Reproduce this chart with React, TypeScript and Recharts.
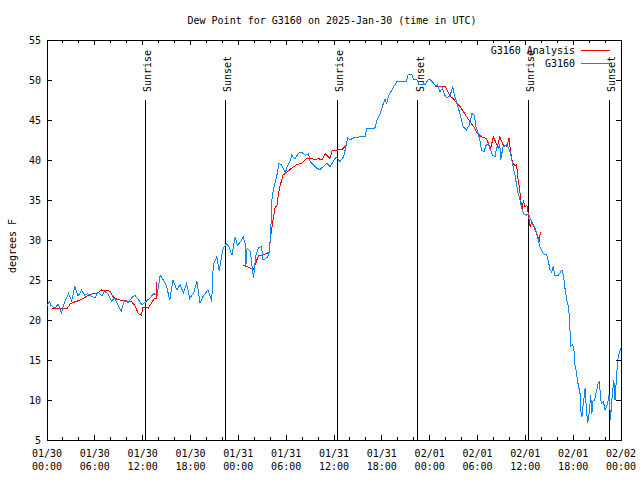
import { LineChart, Line, XAxis, YAxis, ReferenceLine, ReferenceArea } from "recharts";

// hours since 2025-01-30 00:00 UTC, dew point in degrees F
const g3160: [number, number][] = [
  [0, 21.7], [0.3, 22.3], [0.5, 21.8], [1.0, 21.5], [1.4, 22.0], [1.8, 20.9], [2.2, 22.2], [2.7, 23.3],
  [3.1, 22.4], [3.5, 24.2], [3.9, 23.0], [4.35, 23.75], [4.7, 23.1], [5.1, 23.3], [5.5, 23.0], [6.0, 22.75],
  [6.4, 23.5], [6.9, 23.0], [7.2, 23.6], [7.65, 23.3], [8.1, 22.4], [8.5, 22.75], [8.9, 21.9], [9.3, 21.1],
  [9.7, 22.4], [10.2, 22.2], [10.6, 22.75], [11.0, 23.1], [11.5, 22.5], [11.9, 21.9], [12.3, 22.2], [12.9, 22.75],
  [13.4, 23.3], [13.8, 23.0], [14.2, 25.6], [14.6, 25.0], [15.0, 24.2], [15.4, 22.5], [15.8, 25.0], [16.3, 23.75],
  [16.7, 24.4], [17.1, 23.4], [17.5, 24.6], [17.9, 22.7], [18.4, 23.4], [18.8, 24.8], [19.2, 22.1], [19.6, 23.0],
  [20.2, 23.75], [20.66, 22.3], [20.8, 25.9], [20.95, 27.1], [21.3, 27.9], [21.6, 26.1], [21.9, 28.0], [22.1, 29.0],
  [22.5, 29.5], [22.75, 29.3], [23.2, 28.1], [23.6, 30.4], [23.9, 29.3], [24.4, 30.0], [24.6, 30.4], [24.9, 29.4],
  [24.95, 26.8], [25.1, 29.0], [25.5, 28.6], [25.9, 25.25], [26.2, 28.1], [26.5, 29.0], [26.9, 29.2], [27.1, 27.5],
  [27.6, 27.8], [27.8, 28.1], [28.0, 30.0], [28.1, 32.1], [28.2, 35.0], [28.4, 36.25], [28.6, 37.1], [28.9, 38.4],
  [29.1, 39.6], [29.4, 39.4], [29.9, 38.4], [30.1, 39.1], [30.5, 39.9], [30.7, 40.6], [31.1, 40.1], [31.5, 40.8],
  [31.9, 41.0], [32.4, 40.6], [32.8, 40.8], [33.0, 39.8], [33.4, 39.4], [33.8, 39.0], [34.2, 38.8], [34.7, 39.2],
  [35.1, 39.6], [35.5, 39.2], [35.9, 39.8], [36.25, 40.4], [36.75, 39.8], [37.2, 40.4], [37.5, 41.7], [37.7, 42.8],
  [38.0, 42.5], [38.3, 42.7], [38.6, 42.8], [39.3, 42.9], [39.9, 42.9], [40.1, 43.9], [41.1, 43.9], [41.4, 45.0],
  [41.8, 45.8], [42.2, 47.1], [42.4, 47.6], [42.6, 47.1], [42.8, 47.9], [43.0, 48.3], [43.4, 49.0], [43.9, 49.8],
  [45.1, 49.8], [45.3, 50.75], [45.75, 50.75], [45.95, 50.1], [46.4, 50.0], [46.7, 49.4], [47.4, 49.4], [47.8, 50.0],
  [48.0, 50.1], [48.5, 49.6], [48.7, 49.3], [49.0, 49.4], [49.3, 48.5], [49.6, 49.0], [49.9, 48.1], [50.1, 47.8],
  [50.55, 48.0], [50.9, 49.2], [51.05, 48.4], [51.4, 47.1], [51.8, 45.8], [52.2, 44.2], [52.6, 43.75], [53.0, 44.4],
  [53.3, 45.8], [53.6, 45.6], [53.8, 44.2], [54.1, 43.3], [54.3, 42.5], [54.5, 41.25], [54.8, 41.0], [55.1, 41.9],
  [55.35, 42.0], [55.65, 41.2], [55.9, 40.6], [56.2, 40.4], [56.4, 41.6], [56.6, 41.5], [56.8, 41.9], [56.9, 40.0],
  [57.2, 41.6], [57.7, 41.9], [57.9, 41.5], [58.1, 41.0], [58.3, 40.0], [58.5, 39.0], [58.7, 38.1], [58.9, 36.9],
  [59.1, 35.8], [59.3, 35.2], [59.5, 34.2], [59.75, 33.3], [60.2, 33.1], [60.4, 33.3], [60.6, 32.7], [60.9, 32.1],
  [61.2, 31.5], [61.5, 30.6], [61.8, 29.2], [62.25, 28.3], [62.7, 28.1], [62.9, 27.3], [63.1, 26.25], [63.3, 26.0],
  [63.5, 26.7], [63.7, 25.6], [64.1, 25.5], [64.4, 26.0], [64.6, 26.25], [64.8, 25.4], [65.0, 23.75], [65.2, 22.5],
  [65.4, 21.7], [65.5, 20.6], [65.6, 18.75], [65.7, 16.7], [65.95, 16.9], [66.1, 16.25], [66.2, 14.6], [66.4, 13.5],
  [66.6, 12.1], [66.9, 10.6], [66.95, 8.75], [67.1, 7.9], [67.2, 8.9], [67.4, 10.6], [67.5, 11.5], [67.6, 9.75],
  [67.8, 7.1], [67.95, 7.9], [68.1, 9.4], [68.2, 10.6], [68.35, 8.3], [68.5, 10.0], [68.7, 10.0], [68.95, 11.25],
  [69.15, 12.1], [69.3, 12.3], [69.45, 10.0], [69.6, 9.6], [69.8, 9.8], [70.0, 8.75], [70.2, 9.2], [70.4, 10.0],
  [70.5, 10.6], [70.7, 7.5], [70.8, 9.6], [70.95, 11.0], [71.1, 12.5], [71.25, 10.0], [71.4, 12.3], [71.5, 13.75],
  [71.65, 15.4], [71.9, 16.25], [72, 16.5],
];

// analysis, null = no analysis available
const g3160Analysis: [number, number | null][] = [
  [0.6, 21.5], [2.5, 21.4], [2.9, 22.0], [3.3, 22.2], [3.9, 22.4], [4.55, 22.7], [5.2, 23.1], [5.8, 23.3],
  [6.4, 23.4], [6.85, 23.75], [7.3, 23.7], [7.9, 23.6], [8.3, 22.9], [8.75, 22.6], [9.15, 22.5], [9.8, 22.4],
  [10.2, 22.35], [10.6, 22.3], [11.05, 21.75], [11.45, 20.8], [11.9, 20.6], [11.95, 21.6], [12.7, 21.5], [13.1, 22.1],
  [13.4, 22.6], [13.7, 22.7], [13.75, 24.8], [14.0, null],
  [24.6, 26.8], [25.0, 26.7], [25.5, 26.5], [25.9, 26.3], [26.5, 28.0], [27.0, 28.1], [27.5, 28.3], [27.9, 28.5],
  [28.0, 30.0], [28.3, 32.2], [28.6, 34.0], [28.9, 34.4], [29.0, 35.6], [29.2, 36.6], [29.6, 38.1], [30.1, 38.5],
  [30.7, 39.0], [31.3, 39.4], [31.95, 39.6], [32.6, 40.2], [33.2, 40.25], [33.6, 40.0], [34.0, 40.2], [34.5, 40.0],
  [34.9, 40.8], [35.5, 40.2], [35.8, 41.25], [36.5, 41.25], [37.0, 41.3], [37.6, 41.9], [38.0, null],
  [48.7, 49.25], [49.9, 49.25], [50.55, 48.0], [50.95, 47.7], [51.4, 47.1], [51.8, 46.7], [52.2, 46.1], [52.65, 45.4],
  [53.05, 44.8], [53.5, 44.2], [53.9, 43.5], [54.5, 42.9], [55.1, 42.7], [55.35, 42.1], [55.65, 41.5], [56.0, 42.9],
  [56.3, 42.2], [56.5, 41.7], [56.8, 42.9], [57.2, 41.9], [57.65, 41.7], [57.95, 42.7], [58.15, 41.0], [58.4, 39.6],
  [58.7, 39.3], [58.9, 39.4], [59.1, 37.5], [59.3, 36.25], [59.45, 34.8], [59.6, 33.75], [59.75, 35.0], [59.95, 34.2],
  [60.2, 34.3], [60.4, 33.1], [60.6, 31.7], [60.8, 32.3], [61.1, 31.6], [61.4, 30.8], [61.75, 30.0], [61.9, 31.0],
];

const majorHours = [0, 6, 12, 18, 24, 30, 36, 42, 48, 54, 60, 66, 72];
const dateLabels = ["01/30", "01/30", "01/30", "01/30", "01/31", "01/31", "01/31", "01/31", "02/01", "02/01", "02/01", "02/01", "02/02"];
const timeLabels = ["00:00", "06:00", "12:00", "18:00", "00:00", "06:00", "12:00", "18:00", "00:00", "06:00", "12:00", "18:00", "00:00"];
const yTicks = [5, 10, 15, 20, 25, 30, 35, 40, 45, 50, 55];
const sunrises = [12.33, 36.42, 60.38];
const sunsets = [22.37, 46.5, 70.55];

const FONT = '"DejaVu Sans Mono", monospace';
const TOP = 40;
const BOTTOM = 440;
const LEFT = 47;
const RIGHT = 621;
const RED = "#ff0000";
const BLUE = "#0a86ff";

const xTicks: number[] = [];
for (let h = 0; h <= 72; h += 2) xTicks.push(h);

const blueData = g3160.map(([t, v]) => ({ t, v }));
const redData = g3160Analysis.map(([t, v]) => ({ t, v }));

function XTick({ x, payload }: any) {
  const h = payload.value;
  const i = majorHours.indexOf(h);
  const len = i >= 0 ? 5 : 3;
  return (
    <g>
      <line x1={x} x2={x} y1={BOTTOM} y2={BOTTOM - len} stroke="#000" shapeRendering="crispEdges" />
      <line x1={x} x2={x} y1={TOP} y2={TOP + len} stroke="#000" shapeRendering="crispEdges" />
      {i >= 0 && (
        <text x={x} y={BOTTOM + 17} textAnchor="middle" fontFamily={FONT} fontSize={10} fill="#000">
          <tspan x={x}>{dateLabels[i]}</tspan>
          <tspan x={x} dy={13}>{timeLabels[i]}</tspan>
        </text>
      )}
    </g>
  );
}

function YTick({ y, payload }: any) {
  return (
    <g>
      <line x1={LEFT} x2={LEFT + 5} y1={y} y2={y} stroke="#000" shapeRendering="crispEdges" />
      <line x1={RIGHT} x2={RIGHT - 5} y1={y} y2={y} stroke="#000" shapeRendering="crispEdges" />
      <text x={41} y={y + 3.5} textAnchor="end" fontFamily={FONT} fontSize={10} fill="#000">
        {payload.value}
      </text>
    </g>
  );
}

function SunLabel({ viewBox, text }: any) {
  const x = viewBox.x + 6;
  const y = viewBox.y - 8;
  return (
    <text x={x} y={y} transform={`rotate(-90, ${x}, ${y})`} textAnchor="start" fontFamily={FONT} fontSize={10} fill="#000">
      {text}
    </text>
  );
}

export default function App() {
  return (
    <div style={{ position: "absolute", left: 0, top: 0, width: 640, height: 480, background: "#fff" }}>
      <LineChart width={640} height={480} margin={{ top: TOP, right: 640 - RIGHT, bottom: 0, left: 0 }}>
        <XAxis
          type="number"
          dataKey="t"
          domain={[0, 72]}
          ticks={xTicks}
          interval={0}
          height={40}
          axisLine={false}
          tickLine={false}
          tick={<XTick />}
        />
        <YAxis
          type="number"
          domain={[5, 55]}
          ticks={yTicks}
          interval={0}
          width={LEFT}
          axisLine={false}
          tickLine={false}
          tick={<YTick />}
        />
        <ReferenceArea x1={0} x2={72} y1={5} y2={55} fill="none" stroke="#000" strokeWidth={1} shapeRendering="crispEdges" />
        {sunrises.map((h) => (
          <ReferenceLine
            key={"r" + h}
            segment={[{ x: h, y: 5 }, { x: h, y: 47.5 }]}
            stroke="#000"
            strokeWidth={1}
            shapeRendering="crispEdges"
            label={<SunLabel text="Sunrise" />}
          />
        ))}
        {sunsets.map((h) => (
          <ReferenceLine
            key={"s" + h}
            segment={[{ x: h, y: 5 }, { x: h, y: 47.5 }]}
            stroke="#000"
            strokeWidth={1}
            shapeRendering="crispEdges"
            label={<SunLabel text="Sunset" />}
          />
        ))}
        <Line data={redData} dataKey="v" type="linear" stroke={RED} strokeWidth={1} shapeRendering="crispEdges" dot={false} isAnimationActive={false} />
        <Line data={blueData} dataKey="v" type="linear" stroke={BLUE} strokeWidth={1} shapeRendering="crispEdges" dot={false} isAnimationActive={false} />
      </LineChart>
      <svg width={640} height={480} style={{ position: "absolute", left: 0, top: 0, pointerEvents: "none" }}>
        <text x={332} y={24} textAnchor="middle" fontFamily={FONT} fontSize={10} fill="#000">
          Dew Point for G3160 on 2025-Jan-30 (time in UTC)
        </text>
        <text x={16} y={246} transform="rotate(-90, 16, 246)" textAnchor="middle" fontFamily={FONT} fontSize={10} fill="#000">
          degrees F
        </text>
        <text x={575} y={53.5} textAnchor="end" fontFamily={FONT} fontSize={10} fill="#000">G3160 Analysis</text>
        <line x1={581} x2={610} y1={50} y2={50} stroke={RED} shapeRendering="crispEdges" />
        <text x={575} y={66.5} textAnchor="end" fontFamily={FONT} fontSize={10} fill="#000">G3160</text>
        <line x1={581} x2={610} y1={63} y2={63} stroke={BLUE} shapeRendering="crispEdges" />
      </svg>
    </div>
  );
}
